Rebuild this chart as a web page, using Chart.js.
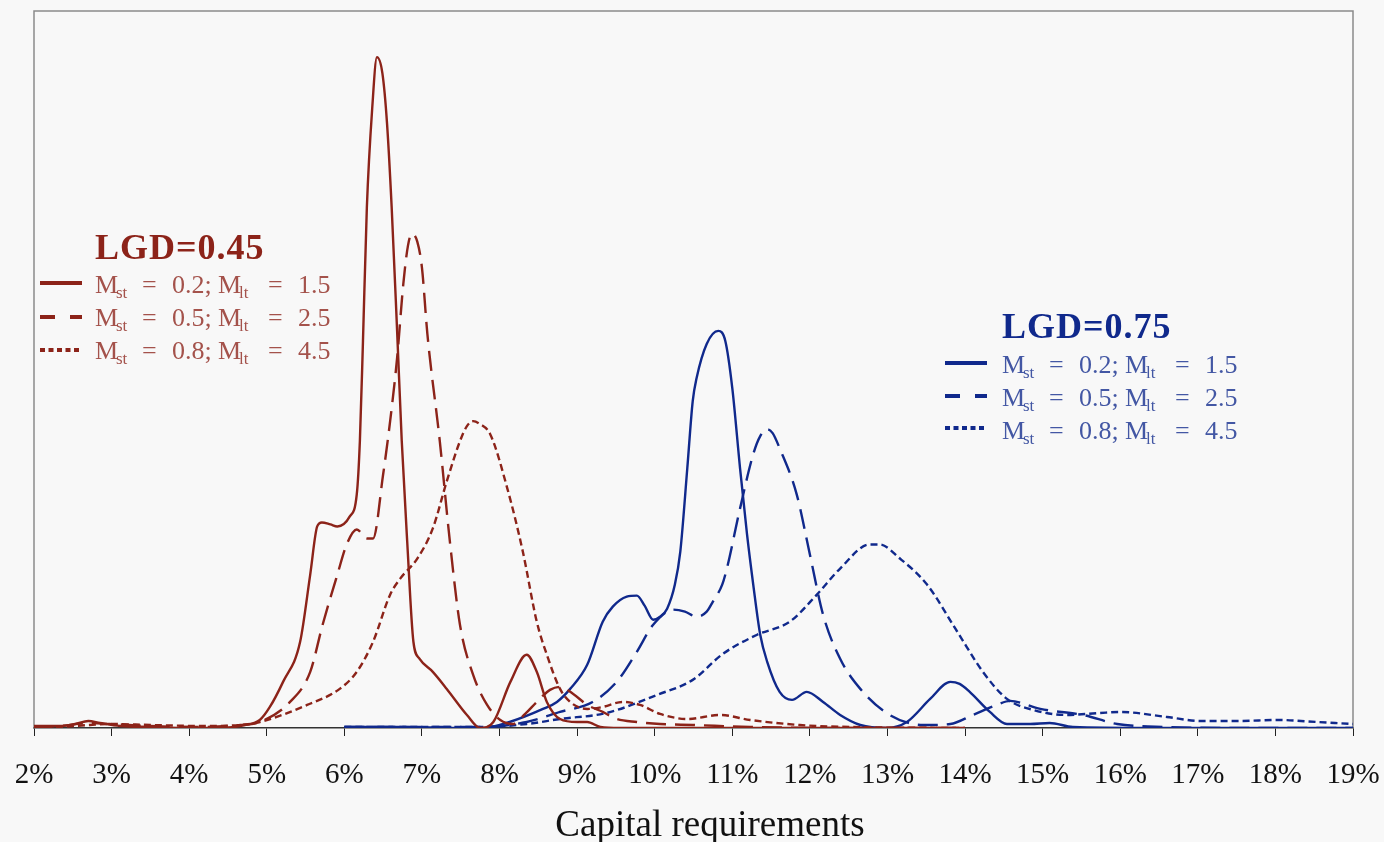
<!DOCTYPE html>
<html>
<head>
<meta charset="utf-8">
<script src="https://cdn.jsdelivr.net/npm/chart.js@4/dist/chart.umd.min.js"></script>
<style>
  html, body { margin: 0; padding: 0; background: #f8f8f8; }
  #caja { position: relative; width: 1384px; height: 842px; }
  #grafico { position: absolute; left: 0; top: 0; }
  #leyendas { position: absolute; left: 0; top: 0; pointer-events: none; }
  #leyendas text { font-family: "Liberation Serif", "DejaVu Serif", serif; }
</style>
</head>
<body>
<div id="caja">
  <canvas id="grafico" width="1384" height="842"></canvas>
  <svg id="leyendas" width="1384" height="842">
    <!-- LGD = 0.45 -->
    <text x="95" y="259" font-size="36" font-weight="bold" letter-spacing="1" fill="#8c2319">LGD=0.45</text>
    <line x1="40" y1="283" x2="82" y2="283" stroke="#8c2319" stroke-width="4"/>
    <line x1="40" y1="317" x2="82" y2="317" stroke="#8c2319" stroke-width="4" stroke-dasharray="15 15"/>
    <line x1="40" y1="350" x2="82" y2="350" stroke="#8c2319" stroke-width="4" stroke-dasharray="5 3.5"/>
    <g fill="#8c2319" fill-opacity="0.78" font-size="26">
      <text y="293"><tspan x="95">M</tspan><tspan x="116" dy="5" font-size="17">st</tspan><tspan x="142" dy="-5">=</tspan><tspan x="172">0.2;</tspan><tspan x="218">M</tspan><tspan x="239" dy="5" font-size="17">lt</tspan><tspan x="268" dy="-5">=</tspan><tspan x="298">1.5</tspan></text>
      <text y="326"><tspan x="95">M</tspan><tspan x="116" dy="5" font-size="17">st</tspan><tspan x="142" dy="-5">=</tspan><tspan x="172">0.5;</tspan><tspan x="218">M</tspan><tspan x="239" dy="5" font-size="17">lt</tspan><tspan x="268" dy="-5">=</tspan><tspan x="298">2.5</tspan></text>
      <text y="359"><tspan x="95">M</tspan><tspan x="116" dy="5" font-size="17">st</tspan><tspan x="142" dy="-5">=</tspan><tspan x="172">0.8;</tspan><tspan x="218">M</tspan><tspan x="239" dy="5" font-size="17">lt</tspan><tspan x="268" dy="-5">=</tspan><tspan x="298">4.5</tspan></text>
    </g>
    <!-- LGD = 0.75 -->
    <text x="1002" y="338" font-size="36" font-weight="bold" letter-spacing="1" fill="#10298c">LGD=0.75</text>
    <line x1="945" y1="363" x2="987" y2="363" stroke="#10298c" stroke-width="4"/>
    <line x1="945" y1="396" x2="987" y2="396" stroke="#10298c" stroke-width="4" stroke-dasharray="15 15"/>
    <line x1="945" y1="428" x2="987" y2="428" stroke="#10298c" stroke-width="4" stroke-dasharray="5 3.5"/>
    <g fill="#10298c" fill-opacity="0.78" font-size="26">
      <text y="373"><tspan x="1002">M</tspan><tspan x="1023" dy="5" font-size="17">st</tspan><tspan x="1049" dy="-5">=</tspan><tspan x="1079">0.2;</tspan><tspan x="1125">M</tspan><tspan x="1146" dy="5" font-size="17">lt</tspan><tspan x="1175" dy="-5">=</tspan><tspan x="1205">1.5</tspan></text>
      <text y="406"><tspan x="1002">M</tspan><tspan x="1023" dy="5" font-size="17">st</tspan><tspan x="1049" dy="-5">=</tspan><tspan x="1079">0.5;</tspan><tspan x="1125">M</tspan><tspan x="1146" dy="5" font-size="17">lt</tspan><tspan x="1175" dy="-5">=</tspan><tspan x="1205">2.5</tspan></text>
      <text y="439"><tspan x="1002">M</tspan><tspan x="1023" dy="5" font-size="17">st</tspan><tspan x="1049" dy="-5">=</tspan><tspan x="1079">0.8;</tspan><tspan x="1125">M</tspan><tspan x="1146" dy="5" font-size="17">lt</tspan><tspan x="1175" dy="-5">=</tspan><tspan x="1205">4.5</tspan></text>
    </g>
    <!-- título del eje x -->
    <text id="tituloX" x="710" y="836" text-anchor="middle" font-size="37" fill="#111"></text>
  </svg>
</div>
<script>
// ==========================
// Datos
// ==========================

// LGD = 0.45, Mst = 0.2; Mlt = 1.5
const capRojo02 = [2.00, 2.34, 2.53, 2.70, 2.85, 3.11, 3.50, 4.01, 4.40, 4.72, 4.91, 5.04, 5.21, 5.43, 5.56, 5.65, 5.71, 5.82, 5.91, 6.07, 6.16, 6.20, 6.24, 6.29, 6.36, 6.42, 6.49, 6.55, 6.61, 6.68, 6.74, 6.81, 6.89, 6.97, 7.14, 7.32, 7.58, 7.75, 7.92, 8.14, 8.35, 8.48, 8.61, 8.78, 9.00, 9.13, 9.30, 9.55, 10.58, 11.87, 14.00];
const densRojo02 = [0.2, 0.2, 0.4, 0.7, 0.5, 0.2, 0.1, 0, 0, 0.3, 0.8, 2.1, 4.6, 8.6, 15.3, 20.1, 20.5, 20.3, 20.1, 21.1, 23.3, 28.6, 38.6, 51.9, 61.9, 66.9, 65.3, 60.3, 51.9, 39.6, 28.6, 18.6, 8.6, 6.9, 5.6, 3.9, 1.3, 0, 0.6, 4.6, 7.3, 5.6, 2.6, 0.9, 0.6, 0.6, 0.1, 0, 0, 0, 0];

// LGD = 0.45, Mst = 0.5; Mlt = 2.5
const capRojo05 = [2.00, 2.34, 2.70, 2.98, 3.50, 4.14, 4.66, 4.91, 5.30, 5.56, 5.72, 5.91, 6.03, 6.16, 6.29, 6.37, 6.50, 6.59, 6.68, 6.76, 6.82, 6.87, 6.94, 7.00, 7.07, 7.23, 7.36, 7.49, 7.66, 7.84, 8.01, 8.17, 8.33, 8.48, 8.65, 8.78, 8.95, 9.13, 9.33, 9.51, 9.77, 10.07, 10.49, 11.23, 12.52, 14.00];
const densRojo05 = [0.1, 0.2, 0.5, 0.4, 0.2, 0.1, 0.3, 0.6, 2.6, 5.6, 10.3, 15.3, 18.3, 19.8, 18.9, 18.9, 25.3, 30.6, 36.9, 44.3, 48.1, 49.3, 48.5, 45.9, 39.3, 28.6, 18.6, 10.3, 5.3, 2.3, 0.8, 0.4, 1.4, 2.6, 3.8, 4.1, 3.4, 2.3, 1.6, 0.9, 0.6, 0.4, 0.3, 0.1, 0, 0];

// LGD = 0.45, Mst = 0.8; Mlt = 4.5
const capRojo08 = [2.00, 2.34, 2.72, 2.98, 3.50, 4.14, 4.66, 4.91, 5.52, 5.94, 6.16, 6.37, 6.59, 6.72, 6.94, 7.14, 7.32, 7.49, 7.58, 7.66, 7.75, 7.88, 8.10, 8.30, 8.48, 8.61, 8.78, 8.91, 9.13, 9.33, 9.59, 9.81, 10.07, 10.42, 10.84, 11.23, 11.87, 12.52, 14.00];
const densRojo08 = [0, 0.1, 0.3, 0.4, 0.3, 0.2, 0.3, 0.6, 2.3, 3.9, 5.6, 8.6, 13.3, 14.9, 16.9, 19.9, 24.6, 28.6, 30.1, 30.6, 30.3, 29.3, 23.9, 17.6, 10.6, 7.3, 3.9, 2.6, 1.9, 2.1, 2.6, 2.3, 1.4, 0.9, 1.3, 0.8, 0.3, 0.1, 0];

// LGD = 0.75, Mst = 0.2; Mlt = 1.5
const capAzul02 = [6.00, 6.72, 7.49, 7.79, 8.13, 8.56, 8.74, 8.91, 9.13, 9.33, 9.46, 9.64, 9.77, 9.87, 9.98, 10.07, 10.16, 10.26, 10.33, 10.42, 10.49, 10.54, 10.67, 10.82, 10.91, 11.00, 11.10, 11.19, 11.27, 11.36, 11.45, 11.61, 11.77, 11.96, 12.17, 12.39, 12.65, 12.99, 13.25, 13.55, 13.81, 13.93, 14.06, 14.32, 14.54, 14.84, 15.09, 15.39, 16.38, 19.00];
const densAzul02 = [0.1, 0.1, 0, 0, 0.6, 1.9, 2.6, 3.9, 6.3, 10.6, 12.1, 13.1, 13.2, 12.2, 10.8, 11.1, 11.9, 14.3, 17.6, 25.9, 32.6, 34.9, 38.3, 39.6, 38.6, 33.9, 25.9, 19.3, 14.3, 9.3, 6.6, 3.6, 2.8, 3.6, 2.6, 1.3, 0.3, 0, 0.6, 2.9, 4.6, 4.4, 3.6, 1.6, 0.4, 0.4, 0.5, 0.1, 0, 0];

// LGD = 0.75, Mst = 0.5; Mlt = 2.5
const capAzul05 = [6.00, 6.97, 7.75, 8.35, 8.78, 9.20, 9.51, 9.77, 9.98, 10.24, 10.39, 10.54, 10.67, 10.75, 10.87, 10.93, 11.10, 11.27, 11.36, 11.45, 11.52, 11.61, 11.83, 12.00, 12.17, 12.39, 12.65, 13.03, 13.46, 13.81, 14.10, 14.41, 14.58, 14.97, 15.52, 15.96, 16.60, 17.67, 19.00];
const densAzul05 = [0.1, 0.1, 0.1, 0.6, 1.6, 2.6, 4.6, 7.6, 10.3, 11.8, 11.6, 11.1, 11.6, 12.6, 14.3, 15.9, 21.9, 27.3, 29.1, 29.8, 29.4, 27.9, 23.3, 17.3, 11.3, 6.9, 3.9, 1.3, 0.3, 0.4, 1.3, 2.3, 2.7, 1.9, 1.3, 0.4, 0.1, 0, 0];

// LGD = 0.75, Mst = 0.8; Mlt = 4.5
const capAzul08 = [6.00, 6.97, 7.79, 8.35, 8.78, 9.38, 10.03, 10.49, 10.88, 11.32, 11.74, 12.09, 12.39, 12.77, 12.90, 13.16, 13.51, 13.90, 14.23, 14.54, 14.88, 15.31, 15.74, 16.00, 16.60, 17.03, 17.54, 18.02, 18.54, 19.00];
const densAzul08 = [0.1, 0.1, 0.1, 0.4, 0.9, 1.5, 3.3, 4.8, 7.4, 9.3, 10.6, 13.3, 15.9, 18.3, 18.3, 16.9, 14.3, 9.6, 5.6, 2.9, 1.8, 1.3, 1.5, 1.6, 1.1, 0.7, 0.7, 0.8, 0.6, 0.4];

// Eje x
const ejeMin = 2;
const ejeMax = 19;
const tituloEje = 'Capital requirements';

// ==========================
// Series
// ==========================

const ROJO = '#8c2319';
const AZUL = '#10298c';

function puntos(xs, ys) {
    return xs.map((x, i) => ({ x: x, y: ys[i] }));
}

function serie(xs, ys, color, guion) {
    return {
        data: puntos(xs, ys),
        borderColor: color,
        borderWidth: 2.4,
        borderDash: guion,
        pointRadius: 0,
        fill: false,
        cubicInterpolationMode: 'monotone'
    };
}

const series = [
    serie(capRojo02, densRojo02, ROJO, []),
    serie(capRojo05, densRojo05, ROJO, [20, 9]),
    serie(capRojo08, densRojo08, ROJO, [7, 4]),
    serie(capAzul02, densAzul02, AZUL, []),
    serie(capAzul05, densAzul05, AZUL, [20, 9]),
    serie(capAzul08, densAzul08, AZUL, [7, 4])
];

document.getElementById('tituloX').textContent = tituloEje;

// marco gris alrededor del área
const marco = {
    id: 'marco',
    beforeDatasetsDraw(chart) {
        const { ctx, chartArea: a } = chart;
        ctx.save();
        ctx.strokeStyle = '#8a8a8a';
        ctx.lineWidth = 1.5;
        ctx.beginPath();
        ctx.moveTo(a.left, a.bottom);
        ctx.lineTo(a.left, a.top);
        ctx.lineTo(a.right, a.top);
        ctx.lineTo(a.right, a.bottom);
        ctx.stroke();
        ctx.restore();
    }
};

new Chart(document.getElementById('grafico'), {
    type: 'line',
    data: { datasets: series },
    plugins: [marco],
    options: {
        responsive: false,
        animation: false,
        devicePixelRatio: 1,
        layout: { padding: { left: 34, right: 31, top: 11, bottom: 27 } },
        plugins: { legend: { display: false }, tooltip: { enabled: false } },
        scales: {
            x: {
                type: 'linear',
                min: ejeMin,
                max: ejeMax,
                afterFit: escala => {
                    // las etiquetas extremas pueden salirse del área
                    escala.paddingLeft = 0;
                    escala.paddingRight = 0;
                },
                border: { display: true, color: '#333', width: 1.5 },
                grid: { drawOnChartArea: false, drawTicks: true, tickLength: 8, color: '#222' },
                ticks: {
                    stepSize: 1,
                    autoSkip: false,
                    maxRotation: 0,
                    padding: 25,
                    color: '#111',
                    font: { family: 'Liberation Serif', size: 29, lineHeight: 1 },
                    callback: v => v + '%'
                }
            },
            y: {
                display: false,
                min: 0,
                max: 71.5
            }
        }
    }
});
</script>
</body>
</html>
